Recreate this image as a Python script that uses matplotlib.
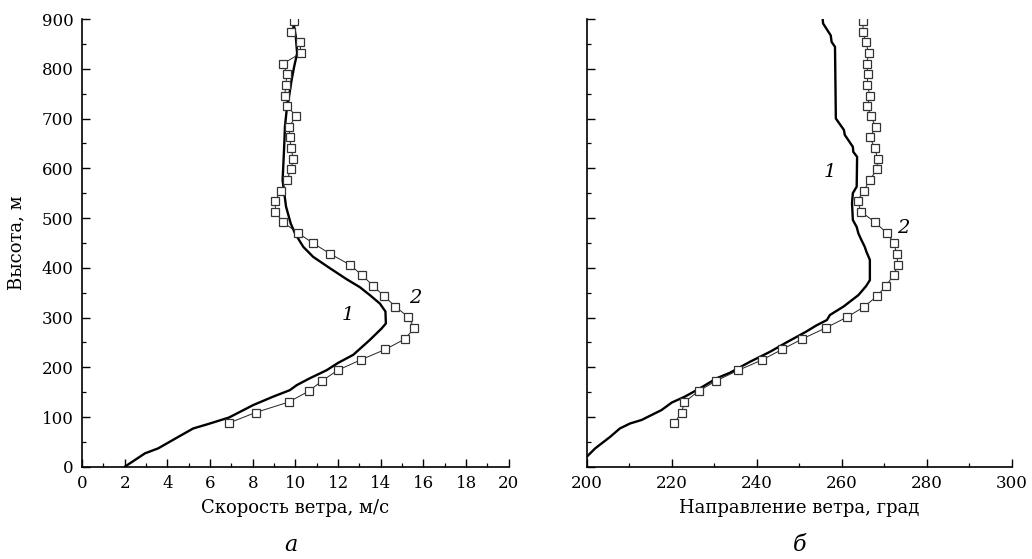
import numpy as np
import matplotlib
matplotlib.use('Agg')
import matplotlib.pyplot as plt
from matplotlib.ticker import MultipleLocator

plt.rcParams['font.family'] = ['DejaVu Serif']
plt.rcParams['font.size'] = 12

# heights of the measured points (series 2), m
h_meas = [88, 109, 130, 152, 173, 194, 215, 236, 257, 279, 301, 322, 343, 364,
          385, 406, 428, 449, 470, 492, 513, 535, 555, 577, 598, 619, 640, 662,
          683, 705, 725, 746, 768, 789, 810, 831, 853, 874, 895]

# wind speed, m/s
speed_meas = [6.89, 8.13, 9.68, 10.63, 11.26, 11.98, 13.07, 14.22, 15.14, 15.57,
              15.29, 14.68, 14.16, 13.63, 13.13, 12.55, 11.63, 10.84, 10.12, 9.40,
              9.06, 9.06, 9.31, 9.60, 9.80, 9.90, 9.80, 9.73, 9.71, 10.02,
              9.62, 9.51, 9.54, 9.62, 9.41, 10.24, 10.23, 9.80, 9.94]

h_speed_model = [0, 27, 37, 62, 77, 86, 99, 124, 141, 154, 164, 178, 194, 209,
                 225, 255, 278, 288, 312, 328, 345, 361, 377, 399, 422, 442,
                 469, 489, 523, 576, 603, 650, 684, 717, 744, 777, 804, 831,
                 864, 885, 897]
speed_model = [2.0, 2.95, 3.57, 4.59, 5.21, 5.92, 6.89, 8.02, 8.96, 9.74, 10.06,
               10.68, 11.46, 12.01, 12.71, 13.49, 14.04, 14.24, 14.22, 13.96,
               13.49, 13.02, 12.40, 11.62, 10.83, 10.37, 9.98, 9.78, 9.56, 9.40,
               9.43, 9.48, 9.51, 9.59, 9.70, 9.82, 9.94, 10.08, 10.02, 9.94, 9.94]

# wind direction, deg
dir_meas = [220.6, 222.3, 223.0, 226.3, 230.5, 235.7, 241.3, 246.0, 250.7, 256.2,
            261.3, 265.3, 268.3, 270.4, 272.2, 273.2, 272.9, 272.3, 270.6, 267.7,
            264.5, 263.7, 265.2, 266.6, 268.3, 268.4, 267.8, 266.6, 268.0, 266.8,
            266.0, 266.6, 266.0, 266.1, 265.9, 266.3, 265.7, 264.9, 265.1]

h_dir_model = [20, 37, 60, 77, 87, 94, 114, 129, 141, 158, 178, 189, 211, 231,
               250, 271, 284, 295, 305, 322, 345, 363, 375, 416, 432, 442, 456,
               469, 482, 496, 530, 550, 563, 623, 633, 643, 657, 667, 677, 700,
               844, 854, 867, 891, 900]
dir_model = [200.0, 202.0, 205.5, 207.8, 210.2, 212.9, 217.6, 220.0, 223.1, 226.7,
             230.6, 233.7, 238.4, 243.1, 247.0, 251.5, 254.0, 256.5, 257.2, 260.4,
             263.9, 265.7, 266.6, 266.6, 265.8, 265.4, 264.6, 263.9, 263.5, 262.6,
             262.4, 262.6, 263.5, 263.6, 262.7, 262.6, 261.5, 260.7, 260.5, 258.6,
             258.4, 257.6, 257.4, 255.6, 255.5]

fig = plt.figure(figsize=(10.32, 5.59), dpi=100)
ax1 = fig.add_axes([0.0795, 0.165, 0.4135, 0.801])
ax2 = fig.add_axes([0.5685, 0.165, 0.412, 0.801])

sq = dict(marker='s', markersize=6, markerfacecolor='white',
          markeredgecolor='#333333', markeredgewidth=0.9,
          color='#222222', linewidth=0.7)

ax1.plot(speed_model, h_speed_model, color='black', linewidth=1.7, zorder=2)
ax1.plot(speed_meas, h_meas, zorder=3, **sq)
ax1.set_xlim(0, 20)
ax1.xaxis.set_major_locator(MultipleLocator(2))
ax1.xaxis.set_minor_locator(MultipleLocator(1))
ax1.set_xlabel('Скорость ветра, м/с', fontsize=13, labelpad=5)
ax1.set_ylabel('Высота, м', fontsize=13, labelpad=12)
ax1.text(12.47, 305, '1', style='italic', fontsize=14, ha='center', va='center')
ax1.text(15.6, 339, '2', style='italic', fontsize=14, ha='center', va='center')
ax1.text(0.49, -0.175, 'а', style='italic', fontsize=16, ha='center', va='center',
         transform=ax1.transAxes)

ax2.plot(dir_model, h_dir_model, color='black', linewidth=1.7, zorder=2)
ax2.plot(dir_meas, h_meas, zorder=3, **sq)
ax2.set_xlim(200, 300)
ax2.xaxis.set_major_locator(MultipleLocator(20))
ax2.xaxis.set_minor_locator(MultipleLocator(10))
ax2.set_xlabel('Направление ветра, град', fontsize=13, labelpad=5)
ax2.tick_params(axis='y', labelleft=False)
ax2.text(257.2, 593, '1', style='italic', fontsize=14, ha='center', va='center')
ax2.text(274.5, 480, '2', style='italic', fontsize=14, ha='center', va='center')
ax2.text(0.5, -0.175, 'б', style='italic', fontsize=16, ha='center', va='center',
         transform=ax2.transAxes)

for ax in (ax1, ax2):
    ax.set_ylim(0, 900)
    ax.yaxis.set_major_locator(MultipleLocator(100))
    ax.yaxis.set_minor_locator(MultipleLocator(50))
    ax.spines['top'].set_visible(False)
    ax.spines['right'].set_visible(False)
    ax.spines['left'].set_linewidth(1.2)
    ax.spines['bottom'].set_linewidth(1.2)
    ax.tick_params(which='major', direction='in', length=5.5, width=1.0, pad=6)
    ax.tick_params(which='minor', direction='in', length=3, width=0.9)

fig.savefig('out.png', dpi=100)
